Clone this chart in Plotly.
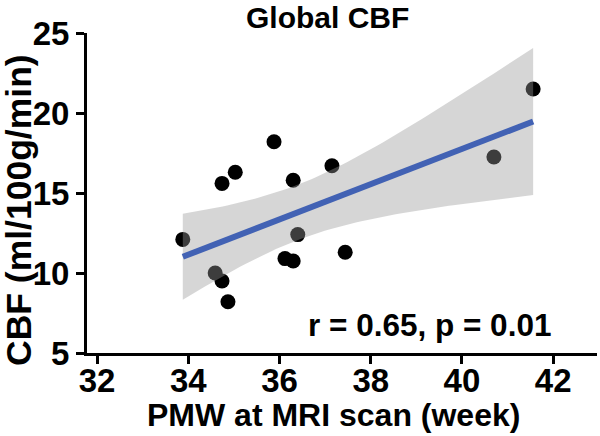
import numpy as np
import plotly.graph_objects as go

# Data
pmw = [33.88, 34.59, 34.74, 34.87, 34.74, 35.03, 35.88, 36.12, 36.30, 36.30, 36.40, 37.15, 37.44, 40.70, 41.56]
cbf = [12.1, 10.0, 9.5, 8.2, 15.6, 16.3, 18.2, 10.9, 10.75, 15.8, 12.4, 16.7, 11.3, 17.25, 21.5]
x_ticks = [32, 34, 36, 38, 40, 42]
y_ticks = [5, 10, 15, 20, 25]
stat_label = "r = 0.65, p = 0.01"
title_text = "Global CBF"
x_title = "PMW at MRI scan (week)"
y_title = "CBF (ml/100g/min)"

# Linear fit with 95% confidence band (like geom_smooth(method="lm"))
x = np.array(pmw)
y = np.array(cbf)
n = len(x)
slope, intercept = np.polyfit(x, y, 1)
xg = np.linspace(x.min(), x.max(), 80)
yg = intercept + slope * xg
resid = y - (intercept + slope * x)
s = np.sqrt(np.sum(resid ** 2) / (n - 2))
sxx = np.sum((x - x.mean()) ** 2)
se = s * np.sqrt(1.0 / n + (xg - x.mean()) ** 2 / sxx)
t_crit = 2.160  # t(0.975, df=13)
upper = yg + t_crit * se
lower = yg - t_crit * se

FONT = "Liberation Sans, Arial, Helvetica, sans-serif"

fig = go.Figure()
fig.add_trace(go.Scatter(
    x=pmw, y=cbf, mode="markers",
    marker=dict(size=15, color="black", line=dict(width=0)),
    showlegend=False, hoverinfo="skip"))
fig.add_trace(go.Scatter(
    x=list(xg) + list(xg[::-1]), y=list(upper) + list(lower[::-1]),
    mode="lines", fill="toself", fillcolor="rgba(153,153,153,0.4)",
    line=dict(width=0), showlegend=False, hoverinfo="skip"))
fig.add_trace(go.Scatter(
    x=xg, y=yg, mode="lines", line=dict(color="#4262B4", width=6),
    showlegend=False, hoverinfo="skip"))

axis_common = dict(
    showgrid=False, zeroline=False, showline=True, linecolor="black", linewidth=3,
    ticks="outside", ticklen=8, tickwidth=3, tickcolor="black",
    tickfont=dict(family=FONT, size=33, color="black", weight="bold"),
    automargin=False,
)
fig.update_xaxes(range=[31.78, 42.96], tickvals=x_ticks, ticklabelstandoff=-12, **axis_common)
fig.update_yaxes(range=[5, 25], tickvals=y_ticks, ticklabelstandoff=0, **axis_common)

# plot area in the reference: x 87..597, y 33..353 (pixels)
def px(xp):
    return (xp - 87) / 510

def py(yp):
    return (353 - yp) / 320

fig.add_annotation(x=39.28, y=6.75, xref="x", yref="y", text=stat_label, showarrow=False,
                   font=dict(family=FONT, size=31.5, color="black", weight="bold"))
fig.add_annotation(x=px(327), y=py(0), xref="paper", yref="paper",
                   text=title_text, showarrow=False, xanchor="center", yanchor="top",
                   borderpad=0,
                   font=dict(family=FONT, size=30, color="black", weight="bold"))
fig.add_annotation(x=px(333), y=py(415), xref="paper", yref="paper",
                   text=x_title, showarrow=False, xanchor="center", yanchor="middle",
                   font=dict(family=FONT, size=32, color="black", weight="bold"))
fig.add_annotation(x=px(19), y=py(210), xref="paper", yref="paper",
                   text=y_title, showarrow=False, textangle=-90, xanchor="center", yanchor="middle",
                   font=dict(family=FONT, size=35.5, color="black", weight="bold"))

fig.update_layout(
    width=600, height=436,
    margin=dict(l=87, r=3, t=33, b=83),
    paper_bgcolor="white", plot_bgcolor="white",
)
fig.write_html("out.html", config={"displayModeBar": False},
               post_script="document.body.style.margin='0';")
